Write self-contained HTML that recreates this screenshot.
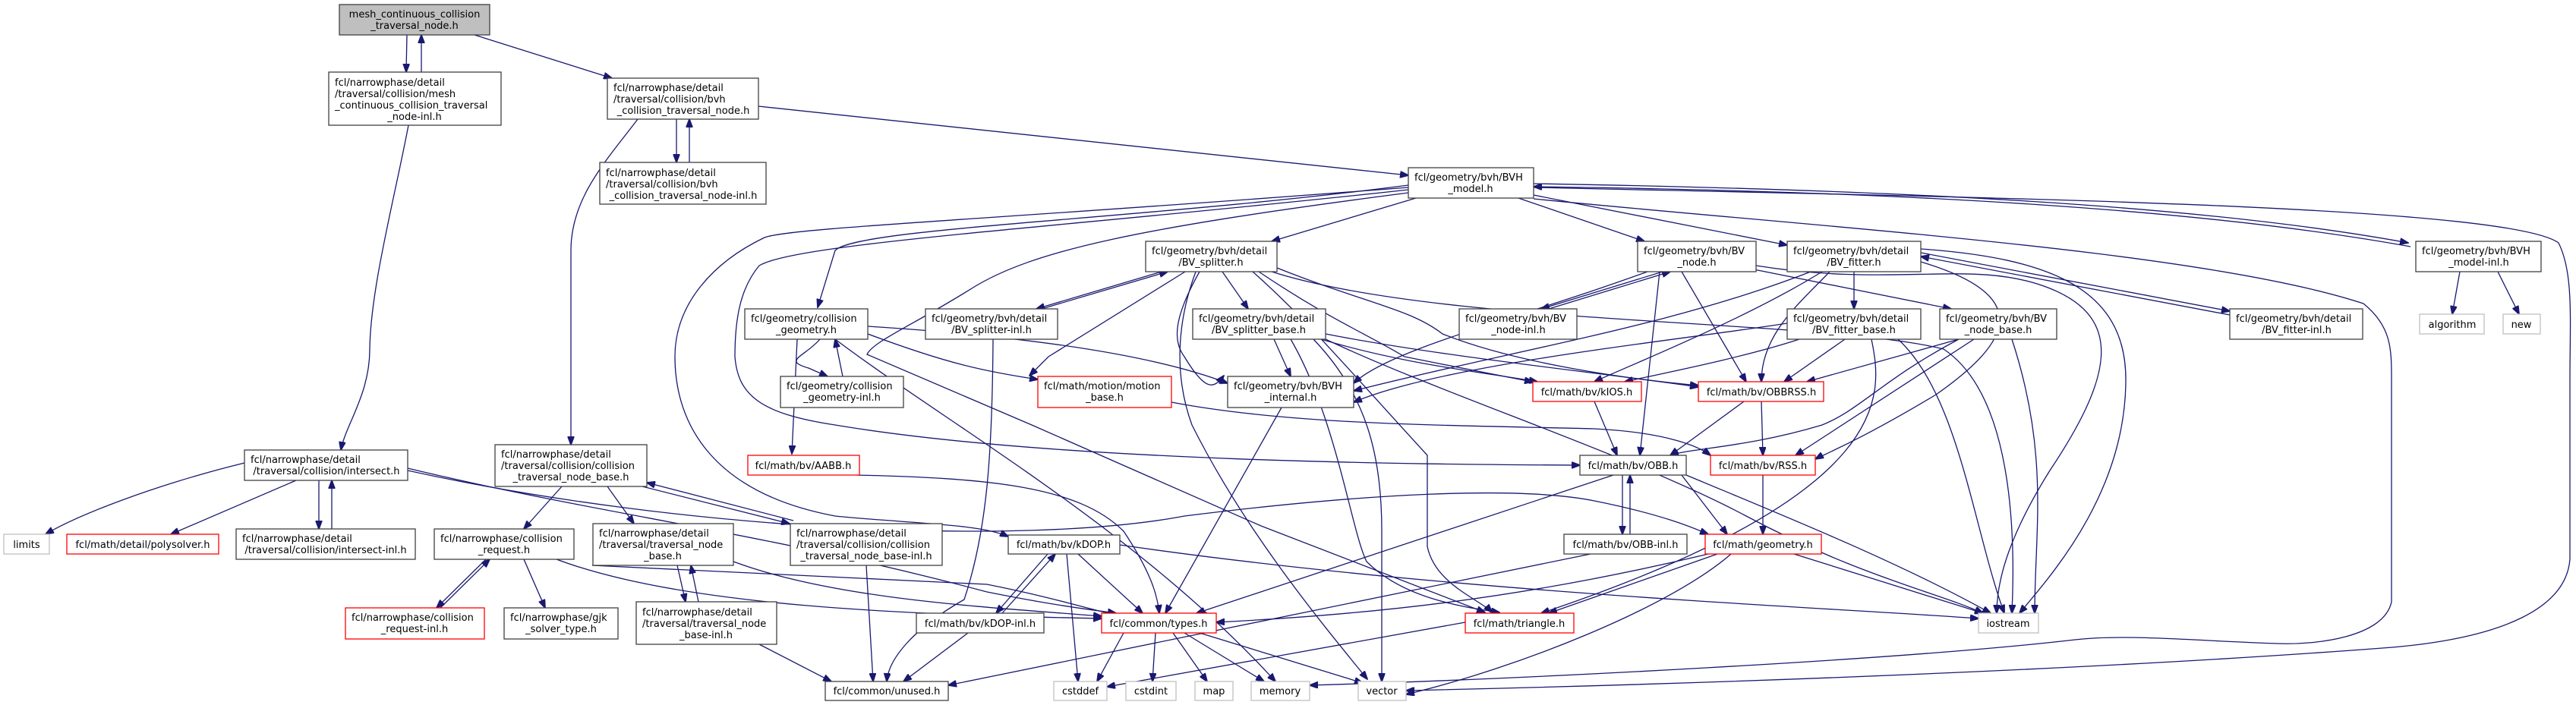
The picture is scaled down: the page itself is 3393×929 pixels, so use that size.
<!DOCTYPE html>
<html><head><meta charset="utf-8"><style>
html,body{margin:0;padding:0;background:#fff;}
svg{display:block}
text{font-family:"DejaVu Sans","Liberation Sans",sans-serif;font-size:13px;fill:#000}
.e{fill:none;stroke:#191970;stroke-width:1.3}
.b{fill:#fff;stroke:#404040;stroke-width:1.3}
.r{fill:#fff;stroke:#ff0000;stroke-width:1.3}
.g{fill:#fff;stroke:#bfbfbf;stroke-width:1.3}
.k{fill:#bfbfbf;stroke:#404040;stroke-width:1.3}
</style></head><body>
<svg width="3393" height="929" viewBox="0 0 3393 929" xmlns="http://www.w3.org/2000/svg">
<defs><marker id="a" markerWidth="12" markerHeight="9" refX="11" refY="4.5" orient="auto" markerUnits="userSpaceOnUse"><path d="M0,0 L12,4.5 L0,9 z" fill="#191970" stroke="#191970"/></marker></defs>
<g marker-end="url(#a)">
<path class="e" d="M536,46 L535,95"/><path class="e" d="M555,95 L555,46"/>
<path class="e" d="M625,46 L806,103"/>
<path class="e" d="M538,165 C520,260 488,380 487,460 C487,520 455,560 449,593"/>
<path class="e" d="M891,157 L891,214"/><path class="e" d="M908,214 L908,157"/>
<path class="e" d="M999,140 L1855,231"/>
<path class="e" d="M840,157 C800,210 752,260 752,330 L752,586"/>
<path class="e" d="M1865,261 L1675,318"/>
<path class="e" d="M2000,261 L2166,318"/>
<path class="e" d="M2020,257 L2354,323"/>
<path class="e" d="M2020,242 C2500,250 2900,270 3172,320"/>
<path class="e" d="M3175,325 C2900,275 2500,252 2020,246"/>
<path class="e" d="M2020,247 C2600,260 3300,270 3370,320 C3390,360 3385,420 3385,500 L3385,737 C3380,800 3300,840 3151,853 C2800,880 2300,900 1852,910"/>
<path class="e" d="M2020,262 C2400,300 2900,330 3113,400 C3150,430 3150,460 3150,500 L3150,793 C3140,840 3050,850 2999,848 C2900,845 2800,835 2733,843 C2500,870 2000,895 1725,903"/>
<path class="e" d="M1855,244 C1500,290 1130,300 1100,330 L1077,405"/>
<path class="e" d="M1855,247 C1300,290 1040,300 1007,313 C940,345 889,400 889,470 C889,560 940,650 1100,680 C1200,690 1290,690 1328,707"/>
<path class="e" d="M1855,250 C1400,300 1050,320 1000,350 C975,380 968,420 968,470 C972,520 1000,545 1100,560 C1400,610 1900,612 2081,613"/>
<path class="e" d="M1855,254 C1500,300 1360,330 1280,380 C1200,430 1150,450 1142,467 L1359,560 L1661,693 L1956,807"/>
<path class="e" d="M1530,358 L1365,407"/><path class="e" d="M1372,407 L1538,358"/>
<path class="e" d="M1610,358 L1644,407"/>
<path class="e" d="M1561,358 L1381,470 L1356,495"/>
<path class="e" d="M1580,358 C1545,420 1545,450 1560,470 C1590,520 1600,510 1612,495"/>
<path class="e" d="M1575,358 C1548,430 1548,500 1570,560 C1640,700 1740,820 1801,895"/>
<path class="e" d="M1658,358 C1750,420 1800,440 1850,470 C1950,490 2000,500 2019,503"/>
<path class="e" d="M1682,353 C1800,400 1858,407 1900,440 C2000,480 2150,500 2237,508"/>
<path class="e" d="M1650,358 C1720,420 1770,480 1880,600 L1880,720 C1890,770 1950,790 1965,807"/>
<path class="e" d="M1675,358 C1900,430 2400,420 2560,460 C2650,520 2655,700 2650,808"/>
<path class="e" d="M1308,447 C1307,600 1300,700 1270,790 C1200,830 1170,870 1168,898"/>
<path class="e" d="M1678,447 L1700,496"/>
<path class="e" d="M1740,447 C1850,480 1950,490 2025,503"/>
<path class="e" d="M1746,440 C1900,470 2100,490 2237,510"/>
<path class="e" d="M1700,447 C1760,550 1780,700 1800,740 C1850,790 1930,800 1975,807"/>
<path class="e" d="M1730,447 C1800,520 1820,600 1820,700 L1820,898"/>
<path class="e" d="M1746,447 C1900,520 2150,600 2300,680 C2450,760 2550,780 2612,808"/>
<path class="e" d="M2190,358 L2030,407"/><path class="e" d="M2040,407 L2200,358"/>
<path class="e" d="M2310,355 L2570,407"/>
<path class="e" d="M2186,358 L2160,600"/>
<path class="e" d="M2215,358 L2300,503"/>
<path class="e" d="M2170,358 C2000,420 1830,460 1783,505"/>
<path class="e" d="M2313,350 C2500,380 2600,340 2700,380 C2800,420 2780,500 2700,620 C2650,700 2630,760 2630,808"/>
<path class="e" d="M2530,333 L2937,410"/><path class="e" d="M2937,415 L2530,338"/>
<path class="e" d="M2442,358 L2442,407"/>
<path class="e" d="M2400,358 C2300,420 2150,480 2100,503"/>
<path class="e" d="M2410,358 C2370,400 2320,440 2320,503"/>
<path class="e" d="M2385,358 C2200,430 2000,460 1783,515"/>
<path class="e" d="M2530,328 C2700,340 2800,380 2800,500 C2800,650 2700,760 2660,808"/>
<path class="e" d="M2530,345 C2680,390 2650,450 2550,520 C2450,580 2400,600 2391,605"/>
<path class="e" d="M2354,426 C2200,450 1900,480 1783,530"/>
<path class="e" d="M2370,447 C2300,470 2200,490 2140,503"/>
<path class="e" d="M2430,447 L2350,503"/>
<path class="e" d="M2465,447 C2480,520 2500,650 2030,808"/>
<path class="e" d="M2500,447 C2580,520 2600,700 2640,808"/>
<path class="e" d="M2580,447 L2380,503"/>
<path class="e" d="M2580,447 C2480,500 2450,540 2400,560 C2300,590 2230,590 2200,600"/>
<path class="e" d="M2600,447 L2365,600"/>
<path class="e" d="M2650,447 C2700,600 2680,700 2680,808"/>
<path class="e" d="M3240,358 L3230,414"/><path class="e" d="M3290,358 L3318,414"/>
<path class="e" d="M1050,447 L1043,598"/>
<path class="e" d="M1080,447 C1060,470 1030,475 1065,485 L1090,496"/>
<path class="e" d="M1110,496 L1100,447"/>
<path class="e" d="M1143,430 C1300,440 1500,460 1617,505"/>
<path class="e" d="M1143,440 C1250,480 1300,490 1367,500"/>
<path class="e" d="M1100,447 C1250,560 1500,700 1680,898"/>
<path class="e" d="M1543,530 C1700,560 1900,560 2100,565 C2200,570 2240,590 2253,600"/>
<path class="e" d="M1688,537 L1535,808"/>
<path class="e" d="M2100,529 L2130,600"/>
<path class="e" d="M2297,529 L2200,600"/>
<path class="e" d="M2320,529 L2322,600"/>
<path class="e" d="M2137,626 L2137,704"/><path class="e" d="M2147,704 L2147,626"/>
<path class="e" d="M2215,626 L2275,704"/>
<path class="e" d="M2125,626 L1576,808"/>
<path class="e" d="M2221,626 C2350,680 2500,740 2622,808"/>
<path class="e" d="M2322,626 L2322,704"/>
<path class="e" d="M2095,730 L1249,903"/>
<path class="e" d="M2250,730 C2000,790 1800,810 1602,820"/>
<path class="e" d="M2262,730 L2040,808"/>
<path class="e" d="M2280,730 C2200,800 2000,880 1852,915"/>
<path class="e" d="M2363,730 L2612,808"/>
<path class="e" d="M1930,820 L1458,905"/>
<path class="e" d="M1480,834 L1445,898"/>
<path class="e" d="M1522,834 L1518,898"/>
<path class="e" d="M1545,834 L1590,898"/>
<path class="e" d="M1560,834 L1665,898"/>
<path class="e" d="M1580,834 L1795,900"/>
<path class="e" d="M1380,730 L1312,808"/><path class="e" d="M1320,808 L1390,730"/>
<path class="e" d="M1420,730 L1505,808"/>
<path class="e" d="M1405,730 L1420,898"/>
<path class="e" d="M1475,718 C1900,780 2400,800 2606,815"/>
<path class="e" d="M1275,834 L1190,898"/>
<path class="e" d="M1128,626 C1300,630 1420,640 1480,700 C1520,760 1525,790 1527,808"/>
<path class="e" d="M322,610 C200,640 100,680 60,704"/>
<path class="e" d="M390,633 L225,704"/>
<path class="e" d="M420,633 L420,697"/><path class="e" d="M437,697 L437,633"/>
<path class="e" d="M537,617 C800,680 1000,700 1300,780 C1400,800 1450,805 1470,808"/>
<path class="e" d="M537,620 C900,700 1350,720 1560,680 C1800,650 2000,640 2100,660 C2200,680 2240,700 2250,704"/>
<path class="e" d="M740,641 L690,697"/>
<path class="e" d="M800,641 L835,690"/>
<path class="e" d="M846,641 L1040,690"/><path class="e" d="M1045,686 L852,636"/>
<path class="e" d="M780,745 L1300,770 C1400,790 1440,805 1470,810"/>
<path class="e" d="M640,737 L575,801"/><path class="e" d="M580,801 L645,737"/>
<path class="e" d="M690,737 L718,801"/>
<path class="e" d="M733,737 C900,800 1200,810 1451,815"/>
<path class="e" d="M892,745 L903,793"/><path class="e" d="M920,793 L910,745"/>
<path class="e" d="M966,740 C1100,790 1300,800 1451,812"/>
<path class="e" d="M1000,849 L1095,898"/>
<path class="e" d="M1141,745 L1150,898"/>
</g>
<g>
<rect class="k" x="447" y="6" width="198" height="40"/><text x="546" y="23" text-anchor="middle">mesh_continuous_collision</text><text x="546" y="38" text-anchor="middle">_traversal_node.h</text>
<rect class="b" x="433" y="95" width="227" height="70"/><text x="441" y="113">fcl/narrowphase/detail</text><text x="441" y="128">/traversal/collision/mesh</text><text x="441" y="143">_continuous_collision_traversal</text><text x="546" y="158" text-anchor="middle">_node-inl.h</text>
<rect class="b" x="800" y="103" width="199" height="54"/><text x="808" y="120">fcl/narrowphase/detail</text><text x="808" y="135">/traversal/collision/bvh</text><text x="900" y="150" text-anchor="middle">_collision_traversal_node.h</text>
<rect class="b" x="790" y="214" width="219" height="55"/><text x="798" y="232">fcl/narrowphase/detail</text><text x="798" y="247">/traversal/collision/bvh</text><text x="900" y="262" text-anchor="middle">_collision_traversal_node-inl.h</text>
<rect class="b" x="1855" y="221" width="165" height="40"/><text x="1863" y="238">fcl/geometry/bvh/BVH</text><text x="1937" y="253" text-anchor="middle">_model.h</text>
<rect class="b" x="1509" y="318" width="173" height="40"/><text x="1517" y="335">fcl/geometry/bvh/detail</text><text x="1595" y="350" text-anchor="middle">/BV_splitter.h</text>
<rect class="b" x="1219" y="407" width="174" height="40"/><text x="1227" y="424">fcl/geometry/bvh/detail</text><text x="1306" y="439" text-anchor="middle">/BV_splitter-inl.h</text>
<rect class="b" x="1571" y="407" width="175" height="40"/><text x="1579" y="424">fcl/geometry/bvh/detail</text><text x="1658" y="439" text-anchor="middle">/BV_splitter_base.h</text>
<rect class="b" x="1922" y="407" width="155" height="40"/><text x="1930" y="424">fcl/geometry/bvh/BV</text><text x="2000" y="439" text-anchor="middle">_node-inl.h</text>
<rect class="b" x="2157" y="318" width="156" height="40"/><text x="2165" y="335">fcl/geometry/bvh/BV</text><text x="2235" y="350" text-anchor="middle">_node.h</text>
<rect class="b" x="2354" y="318" width="176" height="40"/><text x="2362" y="335">fcl/geometry/bvh/detail</text><text x="2442" y="350" text-anchor="middle">/BV_fitter.h</text>
<rect class="b" x="3182" y="318" width="165" height="40"/><text x="3190" y="335">fcl/geometry/bvh/BVH</text><text x="3265" y="350" text-anchor="middle">_model-inl.h</text>
<rect class="b" x="2354" y="407" width="176" height="40"/><text x="2362" y="424">fcl/geometry/bvh/detail</text><text x="2442" y="439" text-anchor="middle">/BV_fitter_base.h</text>
<rect class="b" x="2555" y="407" width="154" height="40"/><text x="2563" y="424">fcl/geometry/bvh/BV</text><text x="2632" y="439" text-anchor="middle">_node_base.h</text>
<rect class="b" x="2937" y="407" width="175" height="40"/><text x="2945" y="424">fcl/geometry/bvh/detail</text><text x="3025" y="439" text-anchor="middle">/BV_fitter-inl.h</text>
<rect class="g" x="3187" y="414" width="85" height="26"/><text x="3230" y="432" text-anchor="middle">algorithm</text>
<rect class="g" x="3297" y="414" width="49" height="26"/><text x="3321" y="432" text-anchor="middle">new</text>
<rect class="b" x="981" y="407" width="162" height="40"/><text x="989" y="424">fcl/geometry/collision</text><text x="1062" y="439" text-anchor="middle">_geometry.h</text>
<rect class="b" x="1028" y="496" width="162" height="41"/><text x="1036" y="513">fcl/geometry/collision</text><text x="1109" y="528" text-anchor="middle">_geometry-inl.h</text>
<rect class="r" x="1367" y="496" width="176" height="41"/><text x="1375" y="513">fcl/math/motion/motion</text><text x="1455" y="528" text-anchor="middle">_base.h</text>
<rect class="b" x="1617" y="496" width="166" height="41"/><text x="1625" y="513">fcl/geometry/bvh/BVH</text><text x="1700" y="528" text-anchor="middle">_internal.h</text>
<rect class="r" x="2019" y="503" width="143" height="26"/><text x="2090" y="521" text-anchor="middle">fcl/math/bv/kIOS.h</text>
<rect class="r" x="2237" y="503" width="165" height="26"/><text x="2320" y="521" text-anchor="middle">fcl/math/bv/OBBRSS.h</text>
<rect class="r" x="985" y="600" width="147" height="26"/><text x="1058" y="618" text-anchor="middle">fcl/math/bv/AABB.h</text>
<rect class="b" x="2081" y="600" width="140" height="26"/><text x="2151" y="618" text-anchor="middle">fcl/math/bv/OBB.h</text>
<rect class="r" x="2253" y="600" width="138" height="26"/><text x="2322" y="618" text-anchor="middle">fcl/math/bv/RSS.h</text>
<rect class="b" x="2060" y="704" width="162" height="26"/><text x="2141" y="722" text-anchor="middle">fcl/math/bv/OBB-inl.h</text>
<rect class="r" x="2246" y="704" width="153" height="26"/><text x="2322" y="722" text-anchor="middle">fcl/math/geometry.h</text>
<rect class="b" x="322" y="593" width="215" height="40"/><text x="330" y="610">fcl/narrowphase/detail</text><text x="430" y="625" text-anchor="middle">/traversal/collision/intersect.h</text>
<rect class="g" x="5" y="704" width="60" height="26"/><text x="35" y="722" text-anchor="middle">limits</text>
<rect class="r" x="88" y="704" width="200" height="26"/><text x="188" y="722" text-anchor="middle">fcl/math/detail/polysolver.h</text>
<rect class="b" x="311" y="697" width="236" height="40"/><text x="319" y="714">fcl/narrowphase/detail</text><text x="429" y="729" text-anchor="middle">/traversal/collision/intersect-inl.h</text>
<rect class="b" x="652" y="586" width="200" height="55"/><text x="660" y="603">fcl/narrowphase/detail</text><text x="660" y="618">/traversal/collision/collision</text><text x="752" y="633" text-anchor="middle">_traversal_node_base.h</text>
<rect class="b" x="572" y="697" width="184" height="40"/><text x="580" y="714">fcl/narrowphase/collision</text><text x="664" y="729" text-anchor="middle">_request.h</text>
<rect class="b" x="781" y="690" width="185" height="55"/><text x="789" y="707">fcl/narrowphase/detail</text><text x="789" y="722">/traversal/traversal_node</text><text x="873" y="737" text-anchor="middle">_base.h</text>
<rect class="b" x="1041" y="690" width="200" height="55"/><text x="1049" y="707">fcl/narrowphase/detail</text><text x="1049" y="722">/traversal/collision/collision</text><text x="1141" y="737" text-anchor="middle">_traversal_node_base-inl.h</text>
<rect class="b" x="1328" y="705" width="147" height="25"/><text x="1401" y="722" text-anchor="middle">fcl/math/bv/kDOP.h</text>
<rect class="r" x="455" y="801" width="183" height="41"/><text x="463" y="818">fcl/narrowphase/collision</text><text x="546" y="833" text-anchor="middle">_request-inl.h</text>
<rect class="b" x="664" y="801" width="150" height="41"/><text x="672" y="818">fcl/narrowphase/gjk</text><text x="739" y="833" text-anchor="middle">_solver_type.h</text>
<rect class="b" x="838" y="793" width="185" height="56"/><text x="846" y="811">fcl/narrowphase/detail</text><text x="846" y="826">/traversal/traversal_node</text><text x="930" y="841" text-anchor="middle">_base-inl.h</text>
<rect class="b" x="1207" y="808" width="168" height="26"/><text x="1291" y="826" text-anchor="middle">fcl/math/bv/kDOP-inl.h</text>
<rect class="r" x="1451" y="808" width="151" height="26"/><text x="1526" y="826" text-anchor="middle">fcl/common/types.h</text>
<rect class="r" x="1930" y="808" width="143" height="26"/><text x="2001" y="826" text-anchor="middle">fcl/math/triangle.h</text>
<rect class="g" x="2606" y="808" width="79" height="26"/><text x="2645" y="826" text-anchor="middle">iostream</text>
<rect class="b" x="1087" y="898" width="162" height="25"/><text x="1168" y="915" text-anchor="middle">fcl/common/unused.h</text>
<rect class="g" x="1388" y="898" width="70" height="25"/><text x="1423" y="915" text-anchor="middle">cstddef</text>
<rect class="g" x="1483" y="898" width="66" height="25"/><text x="1516" y="915" text-anchor="middle">cstdint</text>
<rect class="g" x="1574" y="898" width="50" height="25"/><text x="1599" y="915" text-anchor="middle">map</text>
<rect class="g" x="1648" y="898" width="77" height="25"/><text x="1686" y="915" text-anchor="middle">memory</text>
<rect class="g" x="1789" y="898" width="63" height="25"/><text x="1820" y="915" text-anchor="middle">vector</text>
</g>
</svg>
</body></html>
